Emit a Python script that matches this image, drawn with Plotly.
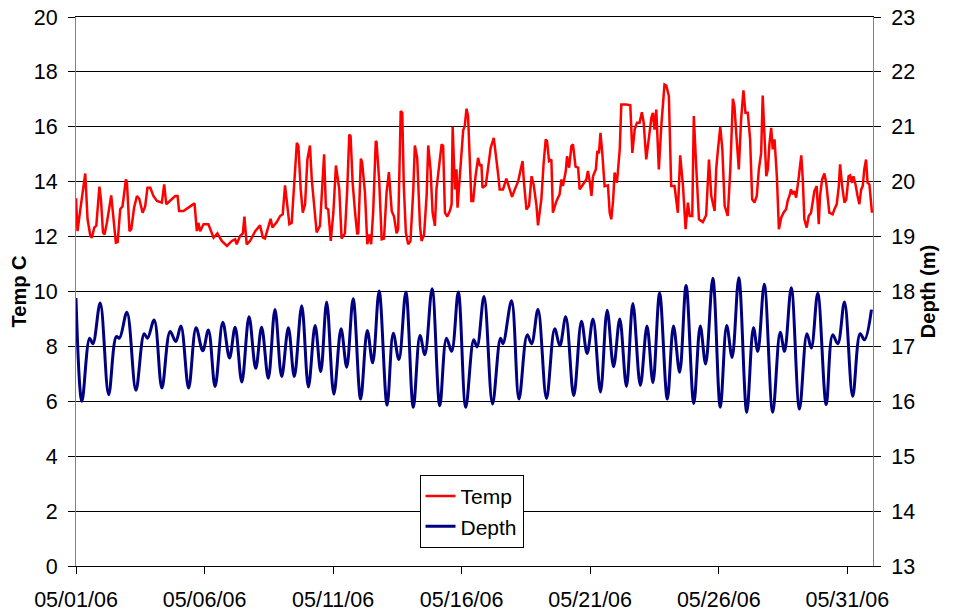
import pandas as pd
import plotly.graph_objects as go

# ---- data (days since 05/01/06 00:00) ----
temp_days = [0.00, 0.06, 0.17, 0.27, 0.36, 0.45, 0.56, 0.62, 0.71, 0.79, 0.91, 0.97, 1.05, 1.11, 1.20, 1.37, 1.44, 1.55, 1.62, 1.72,
             1.81, 1.94, 1.98, 2.08, 2.15, 2.26, 2.37, 2.46, 2.59, 2.69, 2.78, 2.89, 3.01, 3.15, 3.34, 3.43, 3.51, 3.66, 3.86, 3.95,
             4.01, 4.18, 4.37, 4.51, 4.61, 4.70, 4.76, 4.83, 4.96, 5.15, 5.35, 5.50, 5.67, 5.87, 6.06, 6.19, 6.25, 6.38, 6.49, 6.55,
             6.64, 6.77, 6.97, 7.16, 7.27, 7.35, 7.48, 7.57, 7.64, 7.81, 7.94, 8.04, 8.13, 8.20, 8.30, 8.39, 8.49, 8.59, 8.65, 8.74,
             8.82, 8.91, 9.00, 9.10, 9.17, 9.26, 9.36, 9.49, 9.58, 9.65, 9.72, 9.81, 9.91, 10.01, 10.11, 10.24, 10.33, 10.46, 10.55, 10.63,
             10.68, 10.76, 10.85, 10.94, 10.98, 11.08, 11.13, 11.20, 11.24, 11.33, 11.41, 11.48, 11.56, 11.66, 11.69, 11.79, 11.89, 11.98, 12.08, 12.17,
             12.28, 12.37, 12.47, 12.53, 12.63, 12.69, 12.75, 12.83, 12.92, 13.01, 13.12, 13.18, 13.27, 13.38, 13.44, 13.54, 13.64, 13.70, 13.79, 13.87,
             13.96, 14.02, 14.09, 14.15, 14.22, 14.28, 14.35, 14.44, 14.54, 14.61, 14.65, 14.74, 14.80, 14.84, 14.93, 15.06, 15.12, 15.19, 15.25, 15.29,
             15.38, 15.45, 15.54, 15.64, 15.71, 15.77, 15.81, 15.94, 16.03, 16.13, 16.25, 16.33, 16.42, 16.48, 16.61, 16.74, 16.83, 16.96, 17.07, 17.20,
             17.29, 17.37, 17.42, 17.52, 17.62, 17.72, 17.80, 17.91, 17.97, 18.10, 18.19, 18.27, 18.32, 18.40, 18.49, 18.55, 18.69, 18.81, 18.88, 18.94,
             19.05, 19.10, 19.18, 19.27, 19.33, 19.43, 19.53, 19.59, 19.72, 19.85, 19.91, 19.98, 20.05, 20.11, 20.22, 20.28, 20.34, 20.40, 20.47, 20.56,
             20.69, 20.76, 20.82, 20.89, 20.95, 21.04, 21.15, 21.21, 21.41, 21.56, 21.64, 21.73, 21.82, 21.92, 22.01, 22.08, 22.18, 22.28, 22.38, 22.44,
             22.50, 22.57, 22.67, 22.77, 22.89, 22.96, 23.06, 23.15, 23.28, 23.41, 23.50, 23.61, 23.71, 23.80, 23.87, 23.97, 24.03, 24.13, 24.23, 24.38,
             24.51, 24.62, 24.71, 24.84, 24.90, 24.97, 25.06, 25.14, 25.23, 25.35, 25.45, 25.55, 25.61, 25.68, 25.78, 25.87, 25.96, 26.04, 26.13, 26.22,
             26.30, 26.39, 26.48, 26.56, 26.65, 26.71, 26.78, 26.85, 26.91, 26.97, 27.04, 27.10, 27.17, 27.26, 27.34, 27.43, 27.52, 27.62, 27.68, 27.75,
             27.81, 27.88, 27.94, 28.01, 28.11, 28.21, 28.27, 28.33, 28.42, 28.50, 28.59, 28.72, 28.81, 28.89, 28.94, 29.02, 29.11, 29.18, 29.30, 29.43,
             29.50, 29.59, 29.67, 29.72, 29.80, 29.89, 29.96, 30.05, 30.11, 30.19, 30.24, 30.32, 30.40, 30.47, 30.54, 30.60, 30.66, 30.73, 30.79, 30.86,
             30.96]
temp_c = [13.40, 12.20, 13.00, 13.60, 14.30, 12.63, 12.02, 11.96, 12.33, 12.40, 13.82, 13.36, 12.15, 12.08, 12.50, 13.50, 12.87, 11.78, 11.80, 13.00,
          13.10, 14.08, 14.00, 12.20, 12.27, 13.05, 13.48, 13.38, 12.87, 13.10, 13.78, 13.78, 13.48, 13.30, 13.24, 13.90, 13.18, 13.30, 13.48, 13.48,
          12.93, 12.93, 13.05, 13.14, 13.21, 12.20, 12.50, 12.20, 12.45, 12.45, 11.96, 12.12, 11.84, 11.66, 11.84, 11.90, 11.72, 12.02, 12.12, 12.73,
          11.72, 11.84, 12.20, 12.41, 11.96, 11.93, 12.33, 12.65, 12.33, 12.53, 12.75, 12.81, 13.87, 13.36, 12.45, 12.50, 14.08, 15.42, 15.30, 13.72,
          12.87, 13.18, 14.81, 15.32, 14.08, 13.05, 12.15, 12.39, 13.66, 15.00, 13.05, 12.99, 11.84, 12.87, 14.59, 13.72, 11.93, 12.12, 13.72, 15.72,
          15.66, 13.96, 12.93, 12.08, 12.14, 14.84, 14.69, 13.90, 13.60, 11.72, 12.08, 11.72, 12.93, 15.48, 15.44, 14.08, 11.90, 11.93, 13.60, 14.35,
          12.93, 12.73, 12.12, 12.27, 16.57, 16.51, 13.84, 12.15, 11.72, 11.84, 13.72, 15.32, 14.87, 12.39, 11.84, 12.08, 13.54, 15.32, 14.45, 12.87,
          12.39, 13.72, 14.27, 14.93, 15.36, 15.30, 12.87, 12.73, 12.93, 13.18, 16.00, 13.72, 14.45, 13.05, 14.20, 15.88, 16.02, 16.66, 16.39, 15.54,
          13.30, 13.30, 14.20, 14.87, 14.57, 14.63, 13.78, 13.87, 14.57, 15.24, 15.60, 15.05, 14.27, 13.72, 13.72, 14.11, 13.84, 13.45, 13.72, 14.02,
          14.42, 14.75, 14.02, 12.99, 13.12, 14.20, 13.90, 13.14, 12.41, 13.36, 14.69, 15.54, 15.48, 14.75, 14.81, 12.87, 13.30, 13.54, 14.08, 13.84,
          14.39, 14.93, 14.51, 15.30, 15.36, 14.55, 14.51, 13.72, 13.90, 14.08, 14.39, 14.02, 13.48, 14.20, 14.45, 15.12, 15.03, 15.78, 15.05, 13.84,
          13.87, 12.87, 12.63, 13.30, 14.33, 13.96, 15.18, 16.81, 16.81, 16.78, 15.05, 15.90, 16.15, 16.15, 16.53, 16.15, 14.81, 15.66, 16.33, 16.51,
          15.90, 16.63, 14.45, 16.09, 17.54, 17.50, 17.12, 13.84, 13.84, 12.87, 14.96, 13.84, 12.27, 13.24, 12.75, 12.75, 16.39, 14.45, 12.63, 12.53,
          12.78, 14.81, 13.48, 12.93, 14.45, 15.18, 16.00, 15.18, 13.12, 12.75, 14.45, 17.02, 16.75, 15.78, 14.45, 16.27, 17.33, 16.51, 16.51, 15.54,
          13.36, 13.24, 13.48, 14.45, 15.05, 17.14, 15.66, 14.20, 14.45, 15.36, 15.96, 15.18, 15.54, 14.20, 12.27, 12.69, 12.87, 13.00, 13.30, 13.48,
          13.72, 13.54, 13.66, 13.42, 14.15, 14.96, 14.08, 12.63, 12.33, 12.75, 12.87, 13.66, 13.84, 12.45, 13.48, 14.08, 14.30, 13.96, 12.87, 12.81,
          13.00, 13.18, 13.84, 14.63, 13.84, 13.24, 13.36, 14.20, 14.23, 13.96, 14.20, 13.90, 13.48, 13.18, 13.72, 13.84, 14.45, 14.81, 13.96, 13.90,
          12.87]

depth_days = [0.00, 0.23, 0.53, 0.66, 0.94, 1.27, 1.57, 1.69, 1.98, 2.33, 2.65, 2.78, 3.04, 3.34, 3.66, 3.88, 4.08, 4.38, 4.67, 4.93,
              5.15, 5.41, 5.71, 5.97, 6.19, 6.45, 6.73, 6.99, 7.22, 7.48, 7.74, 8.00, 8.26, 8.49, 8.78, 9.04, 9.30, 9.52, 9.75, 10.03,
              10.31, 10.53, 10.78, 11.07, 11.33, 11.54, 11.79, 12.10, 12.34, 12.56, 12.83, 13.12, 13.38, 13.57, 13.85, 14.15, 14.41, 14.61, 14.87, 15.16,
              15.47, 15.60, 15.87, 16.20, 16.51, 16.61, 16.94, 17.23, 17.55, 17.72, 17.97, 18.30, 18.62, 18.82, 19.05, 19.36, 19.66, 19.88, 20.11, 20.40,
              20.66, 20.91, 21.15, 21.41, 21.66, 21.95, 22.21, 22.44, 22.70, 23.00, 23.24, 23.48, 23.73, 24.03, 24.28, 24.49, 24.77, 25.06, 25.31, 25.52,
              25.78, 26.09, 26.35, 26.52, 26.77, 27.10, 27.39, 27.56, 27.82, 28.14, 28.43, 28.60, 28.85, 29.18, 29.43, 29.63, 29.89, 30.21, 30.50, 30.67,
              30.94]
depth_m = [17.88, 16.00, 17.15, 17.05, 17.79, 16.12, 17.18, 17.15, 17.62, 16.20, 17.23, 17.15, 17.48, 16.24, 17.27, 17.09, 17.37, 16.24, 17.34, 16.92,
           17.30, 16.27, 17.44, 16.79, 17.35, 16.35, 17.54, 16.60, 17.35, 16.42, 17.67, 16.45, 17.34, 16.45, 17.74, 16.26, 17.38, 16.54, 17.81, 16.13,
           17.32, 16.62, 17.87, 16.04, 17.29, 16.70, 18.01, 15.93, 17.24, 16.76, 17.99, 15.89, 17.20, 16.85, 18.05, 15.92, 17.15, 16.91, 17.99, 15.89,
           17.12, 16.99, 17.91, 15.95, 17.15, 17.05, 17.83, 16.04, 17.21, 17.05, 17.67, 16.05, 17.32, 17.01, 17.54, 16.10, 17.46, 16.87, 17.50, 16.17,
           17.66, 16.63, 17.50, 16.27, 17.78, 16.29, 17.37, 16.34, 17.97, 16.04, 17.37, 16.53, 18.11, 15.96, 17.37, 16.68, 18.24, 15.89, 17.38, 16.80,
           18.25, 15.80, 17.34, 16.91, 18.13, 15.80, 17.26, 16.91, 18.07, 15.86, 17.23, 16.97, 17.97, 15.94, 17.21, 17.05, 17.81, 16.09, 17.23, 17.12,
           17.67]

start_date = "2006-05-01"
end_date = "2006-06-01"
tick_dates = ["2006-05-01", "2006-05-06", "2006-05-11", "2006-05-16", "2006-05-21", "2006-05-26", "2006-05-31"]
tick_labels = ["05/01/06", "05/06/06", "05/11/06", "05/16/06", "05/21/06", "05/26/06", "05/31/06"]
temp_ticks = [0, 2, 4, 6, 8, 10, 12, 14, 16, 18, 20]
depth_ticks = [13, 14, 15, 16, 17, 18, 19, 20, 21, 22, 23]

base = pd.Timestamp(start_date)
temp_x = base + pd.to_timedelta(temp_days, unit="D")
depth_x = base + pd.to_timedelta(depth_days, unit="D")

FONT = "Liberation Sans, Arial, sans-serif"
NBSP = "\u00a0"
TICK_SIZE = 21.5

fig = go.Figure()
fig.add_trace(go.Scatter(x=temp_x, y=temp_c, name="Temp", mode="lines",
                         line=dict(color="#FF0000", width=2.5)))
fig.add_trace(go.Scatter(x=depth_x, y=depth_m, name="Depth", mode="lines", yaxis="y2",
                         line=dict(color="#000080", width=3, shape="spline", smoothing=1.0)))

# the page body has an 8px margin, so the figure is offset/sized to compensate
fig.update_layout(
    width=955, height=606,
    margin=dict(l=68, r=90, t=9, b=48, autoexpand=False),
    paper_bgcolor="white", plot_bgcolor="white",
    font=dict(family=FONT, size=20, color="black"),
    showlegend=True,
    legend=dict(x=0.431, y=0.166, xanchor="left", yanchor="top",
                bgcolor="white", bordercolor="black", borderwidth=1,
                font=dict(size=21), tracegroupgap=0, itemwidth=30),
    xaxis=dict(type="date", range=[start_date, end_date], automargin=False,
               tickvals=tick_dates, ticktext=tick_labels,
               showgrid=False, zeroline=False,
               showline=True, mirror=True, linecolor="black", linewidth=1,
               ticks="outside", ticklen=7, tickcolor="black",
               ticklabelstandoff=7, ticklabeloverflow="allow",
               tickfont=dict(size=TICK_SIZE)),
    yaxis=dict(range=[0, 20], tickvals=temp_ticks,
               ticktext=[f"{v}{NBSP}" for v in temp_ticks], automargin=False,
               ticklabeloverflow="allow",
               showgrid=True, gridcolor="black", gridwidth=1,
               zeroline=False, showline=True, linecolor="#808080", linewidth=1,
               ticks="outside", ticklen=7, tickcolor="black",
               tickfont=dict(size=TICK_SIZE),
               title=dict(text="<b>Temp C</b>", font=dict(size=20), standoff=1)),
    yaxis2=dict(range=[13, 23], tickvals=depth_ticks,
                ticktext=[f"{NBSP}{v}" for v in depth_ticks], overlaying="y", side="right", automargin=False,
                ticklabeloverflow="allow",
                showgrid=False, zeroline=False, showline=True, linecolor="#808080", linewidth=1,
                ticks="outside", ticklen=7, tickcolor="black",
                tickfont=dict(size=TICK_SIZE),
                title=dict(text="<b>Depth (m)</b>", font=dict(size=20), standoff=6)),
)

fig.write_html("out.html")
